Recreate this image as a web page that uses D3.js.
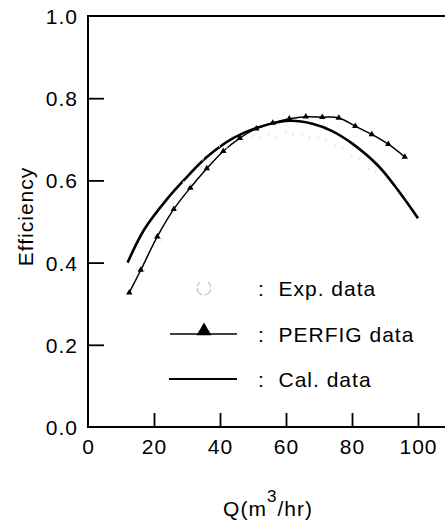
<!DOCTYPE html>
<html>
<head>
<meta charset="utf-8">
<script src="https://cdn.jsdelivr.net/npm/d3@7"></script>
<style>
  html, body { margin: 0; padding: 0; background: #fff; }
  svg { display: block; font-family: "Liberation Sans", Arial, sans-serif; }
</style>
</head>
<body>
<svg id="chart" width="445" height="525"></svg>
<script>
// efficiency vs flow rate
const xTicks = [0, 20, 40, 60, 80, 100];
const yTicks = [0.0, 0.2, 0.4, 0.6, 0.8, 1.0];

const calQ = [12, 17, 24, 29, 36, 44, 52, 61, 68, 74, 80, 88, 94.5, 100];
const calEff = [0.40, 0.48, 0.555, 0.60, 0.657, 0.703, 0.73, 0.745, 0.738, 0.72, 0.69, 0.635, 0.57, 0.508];

const perfigQ = [12.5, 16, 21, 26, 31, 36, 41, 46, 51, 56, 61, 66, 71, 76, 81, 86, 91, 96];
const perfigEff = [0.327, 0.382, 0.463, 0.53, 0.582, 0.629, 0.671, 0.703, 0.726, 0.74, 0.75, 0.755, 0.754, 0.752, 0.732, 0.712, 0.688, 0.657];

const expQ = [16, 21, 26, 30, 36, 41, 46, 51, 56, 61, 66, 71, 76, 81, 86];
const expEff = [0.40, 0.475, 0.55, 0.61, 0.665, 0.698, 0.715, 0.722, 0.727, 0.73, 0.724, 0.72, 0.698, 0.672, 0.641];

const legendItems = ["Exp. data", "PERFIG data", "Cal. data"];

const svg = d3.select("#chart");
const fs = 21;

const x = d3.scaleLinear().domain([0, 100]).range([88, 418]);
const y = d3.scaleLinear().domain([0, 1]).range([427, 16]);

// frame (top + left + bottom, right side runs off the picture)
const g = svg.append("g");
g.append("path")
  .attr("d", `M${x(110)},${y(1)} H${x(0)} V${y(0)} H${x(110)}`)
  .attr("fill", "none").attr("stroke", "#000").attr("stroke-width", 2);

// axes with inward ticks
const yAxis = d3.axisLeft(y).tickValues(yTicks).tickFormat(d3.format(".1f")).tickSize(-16).tickPadding(10);
const gy = g.append("g").attr("transform", `translate(${x(0)},0)`).call(yAxis);
const xAxis = d3.axisBottom(x).tickValues(xTicks).tickFormat(d3.format("d")).tickSize(-14).tickPadding(6);
const gx = g.append("g").attr("transform", `translate(0,${y(0)})`).call(xAxis);

[gx, gy].forEach(a => {
  a.select(".domain").remove();
  a.selectAll(".tick line").attr("stroke", "#000").attr("stroke-width", 1.8);
  a.selectAll(".tick text").attr("fill", "#000").attr("font-size", fs).attr("font-family", "Liberation Sans, Arial, sans-serif").attr("letter-spacing", 1);
});
gy.selectAll(".tick text").attr("dy", "0.36em");
gx.selectAll(".tick text").attr("dy", "1em");
// 0.0 and 1.0 ticks sit on the frame
gy.selectAll(".tick line").filter(d => d === 0 || d === 1).remove();
gx.selectAll(".tick line").filter(d => d === 0).remove();

// axis titles
svg.append("text")
  .attr("transform", `translate(33,${(y(0.4) + y(0.6)) / 2 - 5}) rotate(-90)`)
  .attr("text-anchor", "middle")
  .attr("font-size", fs).attr("letter-spacing", 1)
  .text("Efficiency");

const xt = svg.append("text")
  .attr("x", 268).attr("y", 516)
  .attr("text-anchor", "middle")
  .attr("font-size", fs).attr("letter-spacing", 1);
xt.append("tspan").text("Q(m");
xt.append("tspan").attr("font-size", 17).attr("dy", -14).text("3");
xt.append("tspan").attr("dy", 14).text("/hr)");

// curves
const line = d3.line().x(d => x(d[0])).y(d => y(d[1])).curve(d3.curveCatmullRom);

const cal = d3.zip(calQ, calEff);
g.append("path").attr("d", line(cal))
  .attr("fill", "none").attr("stroke", "#000").attr("stroke-width", 2.6);

const perfig = d3.zip(perfigQ, perfigEff);
g.append("path").attr("d", line(perfig))
  .attr("fill", "none").attr("stroke", "#000").attr("stroke-width", 1.5);

const tri = d3.symbol().type(d3.symbolTriangle);
g.selectAll(".tri")
  .data(perfig)
  .join("path")
  .attr("class", "tri")
  .attr("d", tri.size(18)())
  .attr("transform", d => `translate(${x(d[0])},${y(d[1])})`)
  .attr("fill", "#000");

// experimental points, barely visible in the scan
const exp = d3.zip(expQ, expEff);
g.selectAll(".exp")
  .data(exp)
  .join("circle")
  .attr("class", "exp")
  .attr("cx", d => x(d[0])).attr("cy", d => y(d[1]) + 7)
  .attr("r", 4)
  .attr("fill", "none").attr("stroke", "#dedede").attr("stroke-width", 1)
  .attr("stroke-dasharray", "3,9");

// legend
const lg = svg.append("g");
const rowY = [288, 334, 379];
lg.append("path")
  .attr("d", d3.arc()({ innerRadius: 7, outerRadius: 7, startAngle: Math.PI * 0.2, endAngle: Math.PI * 1.8 }))
  .attr("transform", `translate(204,${rowY[0]})`)
  .attr("fill", "none").attr("stroke", "#c4c4c4").attr("stroke-width", 1.2)
  .attr("stroke-dasharray", "6,5");
lg.append("line").attr("x1", 170).attr("x2", 237).attr("y1", rowY[1]).attr("y2", rowY[1])
  .attr("stroke", "#000").attr("stroke-width", 1.5);
lg.append("path").attr("d", tri.size(95)()).attr("transform", `translate(204,${rowY[1] - 3})`).attr("fill", "#000");
lg.append("line").attr("x1", 169).attr("x2", 237).attr("y1", rowY[2]).attr("y2", rowY[2])
  .attr("stroke", "#000").attr("stroke-width", 2.2);

lg.selectAll(".lt")
  .data(legendItems)
  .join("text")
  .attr("x", 258).attr("y", (d, i) => rowY[i] + 8)
  .attr("font-size", fs).attr("letter-spacing", 1)
  .attr("xml:space", "preserve")
  .text(d => ":  " + d);
</script>
</body>
</html>
